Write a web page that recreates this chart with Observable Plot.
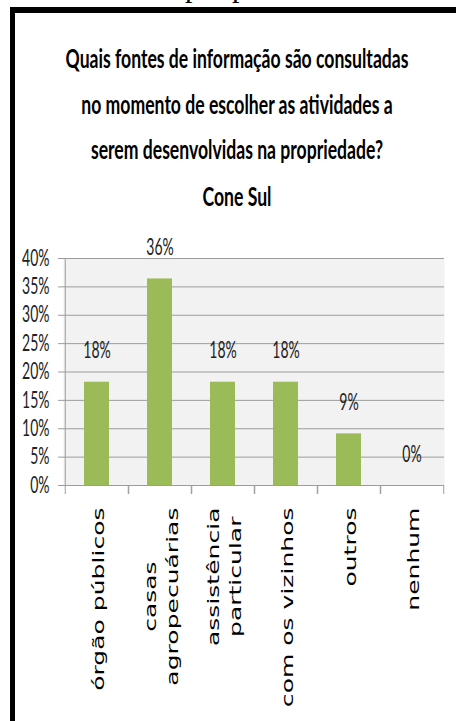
<!DOCTYPE html>
<html><head><meta charset="utf-8">
<script src="https://cdn.jsdelivr.net/npm/d3@7"></script>
<script src="https://cdn.jsdelivr.net/npm/@observablehq/plot@0.6"></script>
<style>
html,body{margin:0;padding:0;background:#fff;width:456px;height:721px;overflow:hidden;position:relative;}
#frame{position:absolute;left:10px;top:7px;width:460px;height:730px;border-top:6px solid #000;border-left:5px solid #000;}
.pp{position:absolute;top:-28px;font-family:"Liberation Serif";font-size:30px;color:#000;line-height:30px}
#title{position:absolute;left:17px;width:440px;top:36px;text-align:center;font-family:Lato;font-weight:700;font-size:17.6px;line-height:30.7px;transform:scaleY(1.5);transform-origin:0 0;color:#000}
#chart{position:absolute;left:0;top:230px}
</style></head><body>
<div class="pp" style="left:185px">p</div><div class="pp" style="left:232px">p</div>
<div id="frame"></div>
<div id="title"></div>
<div id="chart"></div>
<script>
const titleLines = ["Quais fontes de informação são consultadas","no momento de escolher as atividades a","serem desenvolvidas na propriedade?","Cone Sul"];
const categories = ["órgão públicos","casas\nagropecuárias","assistência\nparticular","com os vizinhos","outros","nenhum"];
const values = [0.182,0.364,0.182,0.182,0.091,0];
const valueLabels = ["18%","36%","18%","18%","9%","0%"];
const yTicks = [0,0.05,0.10,0.15,0.20,0.25,0.30,0.35,0.40];

document.getElementById("title").innerHTML = titleLines.join("<br>");

const data = categories.map((c,i)=>({cat:c, value:values[i], label:valueLabels[i]}));
const W = 456, mL = 63, mR = 12;
const bw = (W - mL - mR) / categories.length;
const grid = "#9c9c9c";

const chart = Plot.plot({
  width: W, height: 491,
  marginTop: 28, marginBottom: 236, marginLeft: mL, marginRight: mR,
  x: {domain: categories, padding: 0, axis: null},
  y: {domain: [0, 0.4], axis: null},
  style: {background: "transparent", overflow: "visible"},
  marks: [
    Plot.frame({fill: "#f2f2f2", stroke: "none"}),
    Plot.gridY({ticks: yTicks, stroke: grid, strokeOpacity: 1}),
    Plot.ruleX([categories[0]], {x: d => d, dx: -bw/2, stroke: grid}),
    Plot.axisY({ticks: yTicks, tickFormat: d3.format(".0%"), tickSize: 5, tickPadding: 9, stroke: grid, fill: "#222", fontSize: 14, fontFamily: "Lato", label: null}),
    Plot.axisX({tickSize: 9, fill: "none", stroke: grid, dx: -bw/2, label: null}),
    Plot.axisX({tickSize: 9, fill: "none", stroke: grid, dx: bw/2, label: null}),
    Plot.barY(data, {x: "cat", y: "value", fill: "#9bbb59", insetLeft: 19, insetRight: 19}),
    Plot.text(data, {x: "cat", y: "value", text: "label", dy: -31, fontSize: 14, fontFamily: "Lato", fill: "#222"}),
    Plot.text(categories, {x: d => d, text: d => d, frameAnchor: "bottom", rotate: -90, textAnchor: "end", lineAnchor: "middle", dy: 22, fontSize: 15, fontFamily: "DejaVu Sans", lineHeight: 1.47, fill: "#000"})
  ]
});
document.getElementById("chart").appendChild(chart);

chart.querySelectorAll("text").forEach(t => {
  let tr = t.getAttribute("transform");
  if (!tr) {
    const x = +t.getAttribute("x") || 0, y = +t.getAttribute("y") || 0;
    t.setAttribute("transform", `translate(${x},${y}) scale(1,1.6) translate(${-x},${-y})`);
    return;
  }
  if (tr.includes("rotate")) {
    const spans = [...t.querySelectorAll("tspan")];
    if (spans.length > 1) {
      const lens = spans.map(s => s.getComputedTextLength());
      const L = Math.max(...lens);
      spans.forEach((s, i) => s.setAttribute("x", -(L - lens[i]) / 2));
    }
    t.setAttribute("transform", tr + " scale(1.67,1)");
  } else {
    t.setAttribute("transform", tr + " scale(1,1.6)");
  }
});
</script>
</body></html>
